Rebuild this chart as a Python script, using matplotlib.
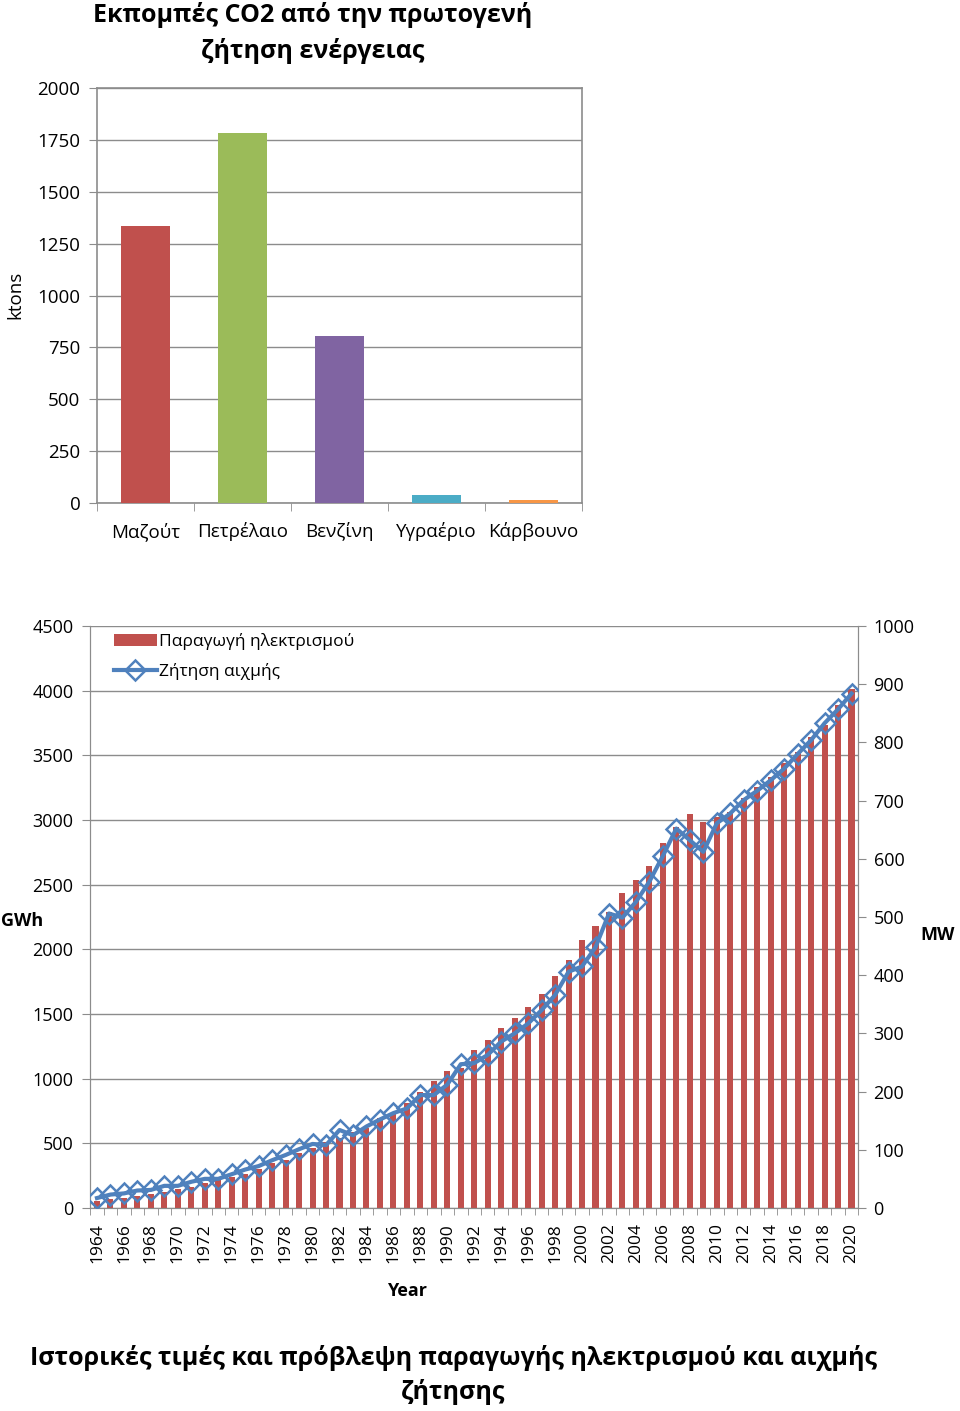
import numpy as np
import matplotlib.pyplot as plt

plt.rcParams['font.family'] = ['Open Sans', 'DejaVu Sans']

# --- Δεδομένα: εκπομπές CO2 ---
fuels = ['Μαζούτ', 'Πετρέλαιο', 'Βενζίνη', 'Υγραέριο', 'Κάρβουνο']
co2_ktons = [1335, 1785, 805, 38, 15]
fuel_colors = ['#C0504D', '#9BBB59', '#8064A2', '#4BACC6', '#F79646']

# --- Δεδομένα: παραγωγή ηλεκτρισμού (GWh) και αιχμή ζήτησης (MW) ---
years = list(range(1964, 2021))
production_gwh = [55, 70, 78, 93, 108, 124, 147, 162, 193, 224,
                  240, 263, 305, 350, 371, 425, 464, 513, 541, 590,
                  618, 696, 735, 812, 900, 982, 1062, 1080, 1222, 1299,
                  1392, 1469, 1554, 1655, 1794, 1918, 2072, 2183, 2291, 2438,
                  2536, 2644, 2825, 2949, 3045, 2982, 3025, 3065, 3170, 3258,
                  3335, 3438, 3528, 3644, 3735, 3890, 4010]
peak_mw = [17, 23, 25, 30, 31, 38, 38, 45, 50, 50,
           58, 66, 72, 82, 91, 101, 110, 108, 134, 125,
           140, 152, 163, 171, 194, 194, 212, 247, 249, 263,
           286, 300, 317, 340, 366, 406, 415, 448, 506, 499,
           526, 561, 605, 652, 632, 612, 661, 678, 701, 717,
           735, 755, 780, 804, 833, 857, 884]

grid_col = '#8C8C8C'

fig = plt.figure(figsize=(9.6, 14.11), dpi=100)

# ================= Πάνω γράφημα =================
ax1 = fig.add_axes([0.101, 0.6435, 0.505, 0.2941])
x1 = np.arange(len(fuels))
ax1.bar(x1, co2_ktons, width=0.5, color=fuel_colors, zorder=3)
ax1.set_xlim(-0.5, len(fuels) - 0.5)
ax1.set_ylim(0, 2000)
ax1.set_yticks(range(0, 2001, 250))
ax1.yaxis.grid(True, color=grid_col, linewidth=1, zorder=0)
ax1.set_xticks(x1)
ax1.set_xticklabels(fuels, fontsize=13.5)
ax1.set_xticks(np.arange(-0.5, len(fuels), 1), minor=True)
ax1.tick_params(axis='x', which='major', length=0, pad=14)
ax1.tick_params(axis='x', which='minor', length=6, color=grid_col)
ax1.tick_params(axis='y', labelsize=13.5, length=6, color=grid_col, pad=6)
for s in ax1.spines.values():
    s.set_color(grid_col)
    s.set_linewidth(1.2)
fig.text(15 / 960, 1 - 295 / 1411, 'ktons', rotation=90, ha='center', va='center',
         fontsize=13.5)
fig.text(313 / 960, 1 - 33 / 1411, 'Εκπομπές CO2 από την πρωτογενή\nζήτηση ενέργειας',
         ha='center', va='center', fontsize=18, fontweight='bold', linespacing=1.5)

# ================= Κάτω γράφημα =================
ax2 = fig.add_axes([0.094, 0.1439, 0.80, 0.4124])
x2 = np.arange(len(years))
ax2.bar(x2, production_gwh, width=0.45, color='#C0504D', zorder=3,
        label='Παραγωγή ηλεκτρισμού')
ax2.set_xlim(-0.5, len(years) - 0.5)
ax2.set_ylim(0, 4500)
ax2.set_yticks(range(0, 4501, 500))
ax2.yaxis.grid(True, color=grid_col, linewidth=1, zorder=0)
ax2.set_xticks(x2[::2])
ax2.set_xticklabels([str(y) for y in years[::2]], rotation=90, fontsize=12.5)
ax2.set_xticks(np.arange(-0.5, len(years), 1), minor=True)
ax2.tick_params(axis='x', which='major', length=0, pad=11)
ax2.tick_params(axis='x', which='minor', length=5, color=grid_col)
ax2.tick_params(axis='y', labelsize=13, length=6, color=grid_col, pad=6)
ax2.spines['top'].set_visible(False)
for s in ['left', 'bottom', 'right']:
    ax2.spines[s].set_color(grid_col)

ax3 = ax2.twinx()
ax3.plot(x2, peak_mw, color='#4F81BD', linewidth=3, marker='D', markersize=10,
         markerfacecolor='none', markeredgecolor='#4F81BD', markeredgewidth=1.8,
         zorder=4, label='Ζήτηση αιχμής')
ax3.set_ylim(0, 1000)
ax3.set_yticks(range(0, 1001, 100))
ax3.tick_params(axis='y', labelsize=13, length=6, color=grid_col, pad=5)
ax3.spines['top'].set_visible(False)
for s in ['left', 'bottom', 'right']:
    ax3.spines[s].set_color(grid_col)

h1, l1 = ax2.get_legend_handles_labels()
h2, l2 = ax3.get_legend_handles_labels()
leg = ax3.legend(h1 + h2, l1 + l2, loc='upper left', bbox_to_anchor=(0.01, 1.015),
                 frameon=False, fontsize=12.5, handlelength=2.5, handletextpad=0.1,
                 labelspacing=0.75)

fig.text(22 / 960, 1 - 921 / 1411, 'GWh', ha='center', va='center',
         fontsize=13, fontweight='bold')
fig.text(938 / 960, 1 - 935 / 1411, 'MW', ha='center', va='center',
         fontsize=13, fontweight='bold')
fig.text(407 / 960, 1 - 1291 / 1411, 'Year', ha='center', va='center',
         fontsize=13, fontweight='bold')
fig.text(453 / 960, 1 - 1375 / 1411,
         'Ιστορικές τιμές και πρόβλεψη παραγωγής ηλεκτρισμού και αιχμής\nζήτησης',
         ha='center', va='center', fontsize=18, fontweight='bold', linespacing=1.4)

fig.savefig('out.png', dpi=100)
